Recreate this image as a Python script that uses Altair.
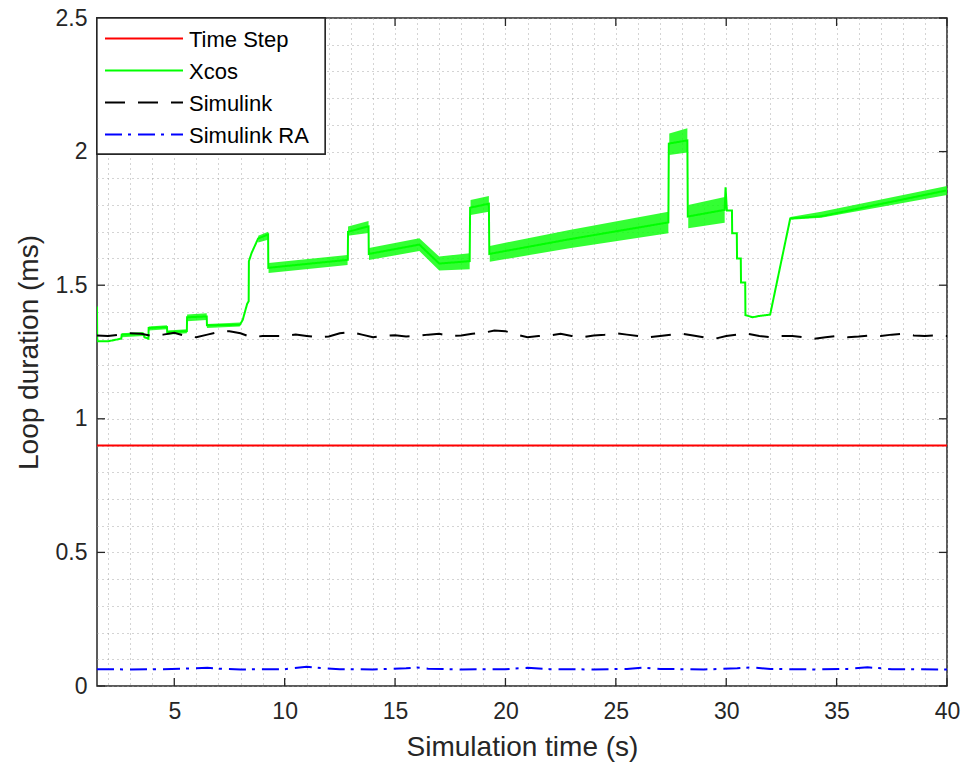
import altair as alt
import pandas as pd

# ---------------- data ----------------
series_names = ["Time Step", "Xcos", "Simulink", "Simulink RA"]
series_colors = ["#ff0000", "#00ff00", "#000000", "#0000ff"]
series_dash = [[1, 0], [1, 0], [20, 13], [17, 6, 3, 7]]

x_major = [5, 10, 15, 20, 25, 30, 35, 40]
x_minor = list(range(2, 41))
y_major = [0, 0.5, 1, 1.5, 2, 2.5]
y_minor = [round(i * 0.1, 1) for i in range(26)]

time_step_x = [1.5, 40]
time_step_y = [0.9, 0.9]

# Xcos main trace
xcos_x = [1.50, 1.51, 2.00, 2.60, 2.62, 3.60, 3.65, 3.83, 3.84, 4.67, 4.68, 5.57, 5.58,
          6.47, 6.48, 7.97, 8.10, 8.30, 8.37, 8.38, 8.50, 8.80, 9.25, 9.26, 12.85, 12.86,
          12.87, 13.80, 13.81, 16.10, 17.00, 18.38, 18.40, 19.25, 19.27, 22.90, 27.38,
          27.40, 28.24, 28.26, 29.93, 29.97, 30.03, 30.26, 30.27, 30.48, 30.49, 30.66,
          30.67, 30.86, 30.87, 31.20, 31.50, 31.99, 32.90, 34.30, 40.00]
xcos_y = [1.42, 1.29, 1.29, 1.30, 1.315, 1.318, 1.305, 1.30, 1.34, 1.343, 1.325, 1.328, 1.38,
          1.383, 1.35, 1.352, 1.37, 1.43, 1.44, 1.59, 1.62, 1.675, 1.69, 1.565, 1.595, 1.595,
          1.70, 1.72, 1.617, 1.652, 1.581, 1.59, 1.79, 1.805, 1.617, 1.672, 1.735,
          2.03, 2.042, 1.757, 1.782, 1.866, 1.78, 1.78, 1.694, 1.694, 1.60, 1.60,
          1.51, 1.51, 1.388, 1.38, 1.385, 1.39, 1.75, 1.758, 1.855]

# Xcos fast-oscillation envelopes (segment id, x, low, high)
band_seg = ["A", "A", "B", "B", "C", "C", "D", "D", "E", "E", "F", "F", "G", "G", "H", "H",
            "I", "I", "I", "I", "K", "K", "L", "L", "L", "M", "M", "N", "N", "O", "O", "O"]
band_x = [2.62, 3.60, 3.84, 4.67, 4.68, 5.57, 5.58, 6.47, 6.48, 7.97, 8.80, 9.25, 9.27, 12.85,
          12.87, 13.80, 13.82, 16.10, 17.00, 18.38, 18.42, 19.25, 19.29, 22.90, 27.38, 27.42,
          28.24, 28.28, 29.93, 32.90, 34.30, 40.00]
band_lo = [1.305, 1.31, 1.33, 1.335, 1.315, 1.32, 1.365, 1.37, 1.34, 1.345, 1.66, 1.67, 1.546,
           1.576, 1.685, 1.695, 1.594, 1.628, 1.555, 1.56, 1.763, 1.775, 1.588, 1.638, 1.694,
           1.987, 1.997, 1.713, 1.734, 1.745, 1.752, 1.838]
band_hi = [1.32, 1.325, 1.345, 1.35, 1.33, 1.335, 1.39, 1.395, 1.355, 1.36, 1.685, 1.70, 1.583,
           1.613, 1.72, 1.74, 1.639, 1.676, 1.607, 1.62, 1.819, 1.834, 1.647, 1.707, 1.775,
           2.068, 2.087, 1.80, 1.83, 1.755, 1.775, 1.871]

simulink_x = [1.5, 2, 2.5, 3, 3.5, 4, 4.5, 5, 5.5, 6, 6.5, 7, 7.5, 8, 8.5, 9, 9.5, 10, 10.5,
              11, 11.5, 12, 12.5, 13, 13.5, 14, 14.5, 15, 15.5, 16, 16.5, 17, 17.5, 18, 18.5,
              19, 19.5, 20, 20.5, 21, 21.5, 22, 22.5, 23, 23.5, 24, 24.5, 25, 25.5, 26, 26.5,
              27, 27.5, 28, 28.5, 29, 29.5, 30, 30.5, 31, 31.5, 32, 32.5, 33, 33.5, 34, 34.5,
              35, 35.5, 36, 36.5, 37, 37.5, 38, 38.5, 39, 39.5, 40]
simulink_y = [1.312, 1.31, 1.315, 1.32, 1.318, 1.31, 1.315, 1.322, 1.31, 1.305, 1.315, 1.325,
              1.328, 1.32, 1.305, 1.31, 1.31, 1.31, 1.315, 1.31, 1.305, 1.308, 1.32, 1.325,
              1.315, 1.305, 1.31, 1.313, 1.308, 1.31, 1.315, 1.318, 1.31, 1.312, 1.318, 1.322,
              1.33, 1.328, 1.315, 1.305, 1.31, 1.312, 1.318, 1.31, 1.305, 1.312, 1.315, 1.32,
              1.315, 1.31, 1.305, 1.31, 1.315, 1.318, 1.312, 1.305, 1.30, 1.31, 1.315, 1.318,
              1.31, 1.305, 1.31, 1.31, 1.305, 1.30, 1.305, 1.31, 1.305, 1.308, 1.312, 1.31,
              1.315, 1.318, 1.312, 1.31, 1.312, 1.31]

ra_x = [1.5, 3, 4.5, 6, 6.5, 7, 8, 10, 11, 11.5, 12.5, 14, 15.5, 16, 16.5, 18, 20, 21, 22,
        24, 25.5, 26.2, 27, 29, 30.5, 31.1, 32, 34, 35.5, 36.4, 37.5, 40]
ra_y = [0.063, 0.062, 0.063, 0.066, 0.068, 0.065, 0.062, 0.063, 0.072, 0.068, 0.063, 0.062,
        0.066, 0.069, 0.065, 0.062, 0.063, 0.068, 0.063, 0.062, 0.064, 0.069, 0.064, 0.062,
        0.066, 0.07, 0.064, 0.062, 0.064, 0.07, 0.063, 0.062]

# ---------------- tables ----------------
rows = []
for sname, xs, ys in [("Time Step", time_step_x, time_step_y), ("Xcos", xcos_x, xcos_y),
                      ("Simulink", simulink_x, simulink_y), ("Simulink RA", ra_x, ra_y)]:
    for i, (xv, yv) in enumerate(zip(xs, ys)):
        rows.append({"series": sname, "x": xv, "y": yv, "i": i})
lines_df = pd.DataFrame(rows)
band_df = pd.DataFrame({"seg": band_seg, "x": band_x, "lo": band_lo, "hi": band_hi})

W, H = 850, 668
FONT = "Liberation Sans"
TXT = "#262626"
GRID = "#a0a0a0"

x_scale = alt.Scale(domain=[1.5, 40], nice=False, zero=False)
y_scale = alt.Scale(domain=[0, 2.5], nice=False, zero=False)
color_scale = alt.Scale(domain=series_names, range=series_colors)
dash_scale = alt.Scale(domain=series_names, range=series_dash)

x_axis = alt.Axis(values=x_minor, grid=True, gridDash=[1, 4], gridColor=GRID,
                  gridOpacity=0.9, ticks=False, domain=False,
                  labelExpr="datum.value % 5 == 0 ? datum.value + '' : ''",
                  labelOverlap=False, labelFlush=False,
                  labelFontSize=23, labelColor=TXT, labelFont=FONT, labelPadding=14,
                  title="Simulation time (s)", titleFontSize=28, titleFont=FONT,
                  titleFontWeight="normal", titleColor=TXT, titlePadding=10)
y_axis = alt.Axis(values=y_minor, grid=True, gridDash=[1, 4], gridColor=GRID,
                  gridOpacity=0.9, ticks=False, domain=False,
                  labelExpr="indexof([0, 0.5, 1, 1.5, 2, 2.5], datum.value) >= 0 ? datum.value + '' : ''",
                  labelOverlap=False, labelFlush=False,
                  labelFontSize=23, labelColor=TXT, labelFont=FONT, labelPadding=10,
                  title="Loop duration (ms)", titleFontSize=28, titleFont=FONT,
                  titleFontWeight="normal", titleColor=TXT, titlePadding=12)

X = lambda f: alt.X(f, scale=x_scale, axis=x_axis)
Y = lambda f: alt.Y(f, scale=y_scale, axis=y_axis)

bands = alt.Chart(band_df).mark_area(color="#00ff00", opacity=0.8, clip=True).encode(
    x=X("x:Q"), y=Y("lo:Q"), y2="hi:Q", detail="seg:N",
)

lines = alt.Chart(lines_df).mark_line(strokeWidth=2, clip=True).encode(
    x=X("x:Q"), y=Y("y:Q"),
    color=alt.Color("series:N", scale=color_scale, legend=None),
    strokeDash=alt.StrokeDash("series:N", scale=dash_scale, legend=None),
    order="i:Q",
)

# inward ticks on all four sides
xt_df = pd.DataFrame({"x": x_major})
yt_df = pd.DataFrame({"y": y_major})
tick_style = dict(color=TXT, strokeWidth=1.3)
tb = alt.Chart(xt_df).mark_rule(**tick_style).encode(
    x=X("x:Q"), y=alt.value(H), y2=alt.value(H - 8))
tt = alt.Chart(xt_df).mark_rule(**tick_style).encode(
    x=X("x:Q"), y=alt.value(0), y2=alt.value(8))
tl = alt.Chart(yt_df).mark_rule(**tick_style).encode(
    y=Y("y:Q"), x=alt.value(0), x2=alt.value(8))
tr = alt.Chart(yt_df).mark_rule(**tick_style).encode(
    y=Y("y:Q"), x=alt.value(W), x2=alt.value(W - 8))

# legend box (top-left, inside the axes)
leg_df = pd.DataFrame({"series": series_names})
leg_box = alt.Chart(leg_df).mark_rect(fill="white", stroke=TXT, strokeWidth=1.3).encode(
    x=alt.value(0), x2=alt.value(228), y=alt.value(0), y2=alt.value(136))
leg_layers = [leg_box]
ROW0, ROWH = 20.5, 32
for k, name in enumerate(series_names):
    one = pd.DataFrame({"series": [name]})
    ypix = ROW0 + ROWH * k
    leg_layers.append(
        alt.Chart(one).mark_rule(strokeWidth=2).encode(
            x=alt.value(8), x2=alt.value(86), y=alt.value(ypix),
            color=alt.Color("series:N", scale=color_scale, legend=None),
            strokeDash=alt.StrokeDash("series:N", scale=dash_scale, legend=None),
        ))
    leg_layers.append(
        alt.Chart(one).mark_text(align="left", baseline="middle", fontSize=22, font=FONT,
                                 color="#000000").encode(
            x=alt.value(92), y=alt.value(ypix + 1), text="series:N"))

chart = alt.layer(bands, lines, tb, tt, tl, tr, *leg_layers).properties(
    width=W, height=H,
    autosize=alt.AutoSizeParams(type="none"),
    padding={"left": 97, "top": 18, "right": 17, "bottom": 85},
    background="white",
).configure_view(stroke=TXT, strokeWidth=1.5)

chart.save("out.html", embed_options={"renderer": "svg", "actions": False})
